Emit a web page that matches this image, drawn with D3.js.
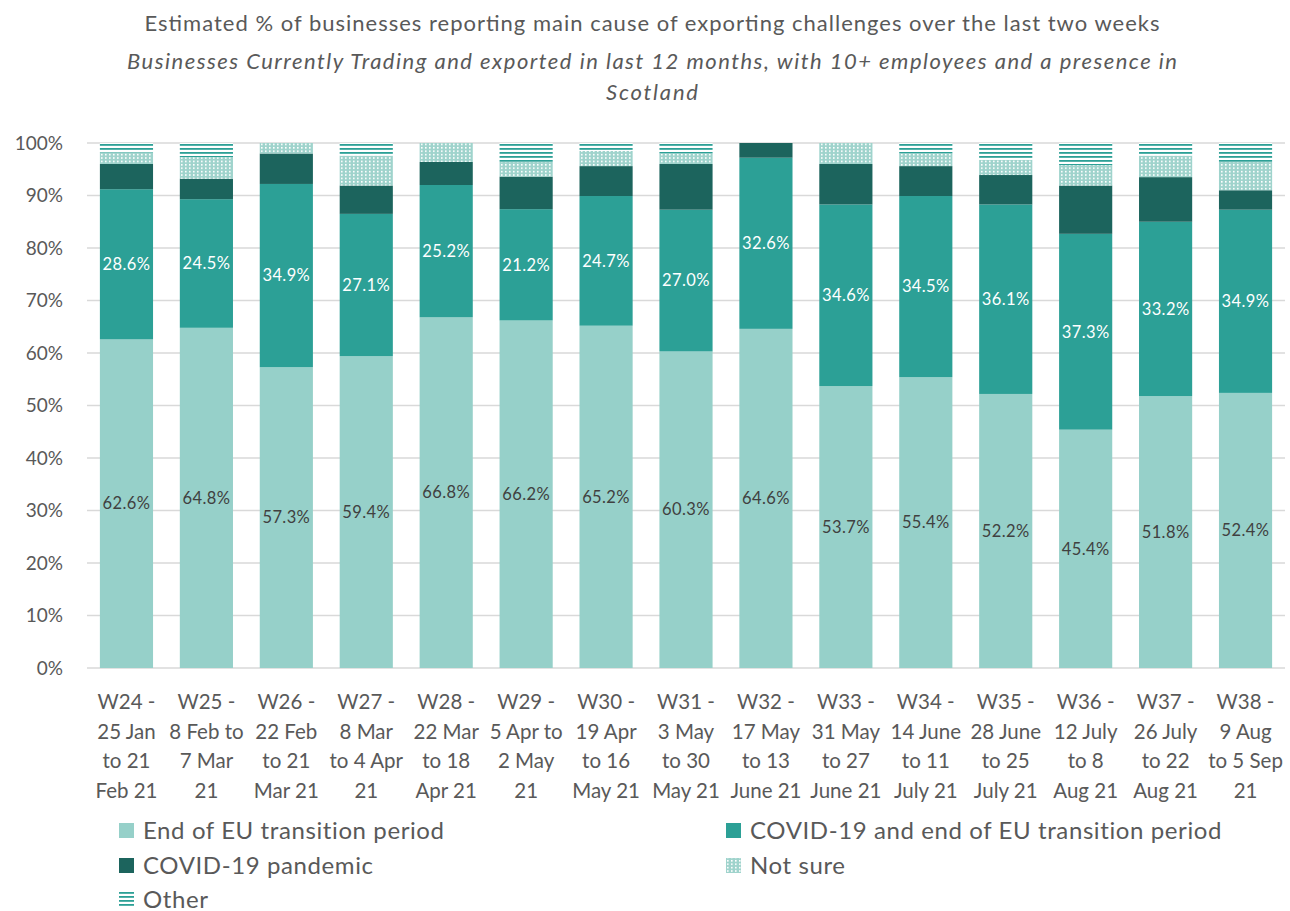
<!DOCTYPE html>
<html>
<head>
<meta charset="utf-8">
<script src="https://cdn.jsdelivr.net/npm/d3@7"></script>
<style>
  html, body { margin: 0; padding: 0; background: #fff; }
  svg { display: block; font-family: Lato, "Open Sans", sans-serif; }
</style>
</head>
<body>
<svg id="chart" width="1290" height="911"></svg>
<script>
// ---- DATA ----
const categories = [
  "W24 -\n25 Jan\nto 21\nFeb 21",
  "W25 -\n8 Feb to\n7 Mar\n21",
  "W26 -\n22 Feb\nto 21\nMar 21",
  "W27  -\n8 Mar\nto 4 Apr\n21",
  "W28 -\n22 Mar\nto 18\nApr 21",
  "W29 -\n5 Apr to\n2 May\n21",
  "W30 -\n19 Apr\nto 16\nMay 21",
  "W31 -\n3 May\nto 30\nMay 21",
  "W32 -\n17 May\nto 13\nJune 21",
  "W33 -\n31 May\nto 27\nJune 21",
  "W34 -\n14 June\nto 11\nJuly 21",
  "W35 -\n28 June\nto 25\nJuly 21",
  "W36 -\n12 July\nto 8\nAug 21",
  "W37 -\n26 July\nto 22\nAug 21",
  "W38 -\n9 Aug\nto 5 Sep\n21"
];
const endOfEU      = [62.6, 64.8, 57.3, 59.4, 66.8, 66.2, 65.2, 60.3, 64.6, 53.7, 55.4, 52.2, 45.4, 51.8, 52.4];
const covidAndEU   = [28.6, 24.5, 34.9, 27.1, 25.2, 21.2, 24.7, 27.0, 32.6, 34.6, 34.5, 36.1, 37.3, 33.2, 34.9];
const covidPandemic= [4.8, 3.9, 5.8, 5.4, 4.4, 6.2, 5.7, 8.7, 2.8, 7.7, 5.7, 5.6, 9.2, 8.5, 3.7];
const notSure      = [2.2, 4.1, 2.0, 5.7, 3.6, 2.8, 2.9, 2.0, 0.0, 4.0, 2.4, 2.9, 3.9, 4.1, 5.4];
const other        = [1.8, 2.7, 0.0, 2.4, 0.0, 3.6, 1.5, 2.0, 0.0, 0.0, 2.0, 3.2, 4.2, 2.4, 3.6];
const yTicks = [0, 0.1, 0.2, 0.3, 0.4, 0.5, 0.6, 0.7, 0.8, 0.9, 1.0];
const seriesNames = ["End of EU transition period", "COVID-19 and end of EU transition period",
                     "COVID-19 pandemic", "Not sure", "Other"];
const titleLines = [
  "Estimated % of businesses reporting main cause of exporting challenges over the last two weeks",
  "Businesses Currently Trading and exported in last 12 months, with 10+ employees and a presence in",
  "Scotland"
];

// ---- SETUP ----
const svg = d3.select("#chart");
const plotBottom = 668, plotTop = 143;

const keys = ["eu", "both", "pandemic", "notsure", "other"];
const rows = categories.map((c, i) => ({
  cat: c, eu: endOfEU[i], both: covidAndEU[i], pandemic: covidPandemic[i],
  notsure: notSure[i], other: other[i]
}));
const stacked = d3.stack().keys(keys)(rows);

const x = d3.scaleBand().domain(categories).range([86.5, 1285.5]).paddingInner(0.335).paddingOuter(0.1675);
const y = d3.scaleLinear().domain([0, 100]).range([plotBottom, plotTop]);

// patterns
const defs = svg.append("defs");
const pDots = defs.append("pattern").attr("id", "dots").attr("patternUnits", "userSpaceOnUse")
  .attr("width", 4).attr("height", 3.4);
pDots.append("rect").attr("width", 4).attr("height", 3.4).attr("fill", "#9fd3cc");
pDots.append("rect").attr("x", 1).attr("y", 0.8).attr("width", 1.6).attr("height", 1.6).attr("fill", "#ffffff");

const pLines = defs.append("pattern").attr("id", "lines").attr("patternUnits", "userSpaceOnUse")
  .attr("width", 8).attr("height", 4);
pLines.append("rect").attr("width", 8).attr("height", 4).attr("fill", "#ffffff");
pLines.append("rect").attr("y", 0).attr("width", 8).attr("height", 1.8).attr("fill", "#2ca096");

const fills = {eu: "#96d0c9", both: "#2ca096", pandemic: "#1c645d", notsure: "url(#dots)", other: "url(#lines)"};

// gridlines
svg.append("g").selectAll("line").data(yTicks).join("line")
  .attr("x1", 87).attr("x2", 1285)
  .attr("y1", d => y(d * 100)).attr("y2", d => y(d * 100))
  .attr("stroke", "#d9d9d9").attr("stroke-width", 1.3);

// y axis labels
const yAxis = d3.axisLeft(y).tickValues(yTicks.map(d => d * 100)).tickFormat(d => d + "%").tickSize(0).tickPadding(0);
const yg = svg.append("g").attr("transform", "translate(63,0)").call(yAxis);
yg.select(".domain").remove();
yg.selectAll("text").attr("fill", "#595959").style("font-size", "19px").style("font-family", "Lato, sans-serif");

// bars
const layers = svg.append("g").selectAll("g").data(stacked).join("g")
  .attr("fill", d => fills[d.key]);
layers.selectAll("rect").data(d => d).join("rect")
  .attr("x", d => x(d.data.cat))
  .attr("width", x.bandwidth())
  .attr("y", d => y(d[1]))
  .attr("height", d => Math.max(0, y(d[0]) - y(d[1])));

// data labels
const lblEU = stacked[0], lblBoth = stacked[1];
svg.append("g").selectAll("text").data(lblEU).join("text")
  .attr("x", d => x(d.data.cat) + x.bandwidth() / 2)
  .attr("y", d => y((d[0] + d[1]) / 2))
  .attr("dy", "0.35em").attr("text-anchor", "middle")
  .attr("fill", "#404040").style("font-size", "16.5px").style("letter-spacing", "0.4px")
  .text(d => d.data.eu.toFixed(1) + "%");
svg.append("g").selectAll("text").data(lblBoth).join("text")
  .attr("x", d => x(d.data.cat) + x.bandwidth() / 2)
  .attr("y", d => y((d[0] + d[1]) / 2))
  .attr("dy", "0.35em").attr("text-anchor", "middle")
  .attr("fill", "#ffffff").style("font-size", "16.5px").style("letter-spacing", "0.4px")
  .text(d => d.data.both.toFixed(1) + "%");

// x axis
const xAxis = d3.axisBottom(x).tickSize(0).tickFormat("");
const xg = svg.append("g").attr("transform", `translate(0,${plotBottom})`).call(xAxis);
xg.select(".domain").remove();
xg.selectAll(".tick").each(function(d) {
  const t = d3.select(this).append("text")
    .attr("text-anchor", "middle").attr("fill", "#595959")
    .style("font-size", "20.5px").style("font-family", "Lato, sans-serif");
  d.split("\n").forEach((line, i) => {
    t.append("tspan").attr("x", 0).attr("y", 41 + i * 29.5).text(line);
  });
});

// title
const title = svg.append("g").attr("fill", "#595959").attr("text-anchor", "middle");
const titleY = [31, 69, 100];
const titleW = [1015, 1050, 92];
titleLines.forEach((t, i) => {
  title.append("text").attr("x", 652).attr("y", titleY[i])
    .style("font-size", "22px").style("font-style", i === 0 ? "normal" : "italic")
    .attr("textLength", titleW[i]).attr("lengthAdjust", "spacing")
    .text(t);
});

// legend
const legendPos = [
  {x: 119, y: 831}, {x: 726, y: 831}, {x: 119, y: 866}, {x: 726, y: 866}, {x: 119, y: 900}
];
const lg = svg.append("g").selectAll("g").data(keys).join("g")
  .attr("transform", (d, i) => `translate(${legendPos[i].x},${legendPos[i].y})`);
lg.append("rect").attr("x", 0).attr("y", -8).attr("width", 15).attr("height", 15)
  .attr("fill", d => fills[d]);
lg.append("text").attr("x", 24).attr("y", 0).attr("dy", "0.35em")
  .attr("fill", "#595959").style("font-size", "24px").style("letter-spacing", "0.6px")
  .text((d, i) => seriesNames[i]);
</script>
</body>
</html>
